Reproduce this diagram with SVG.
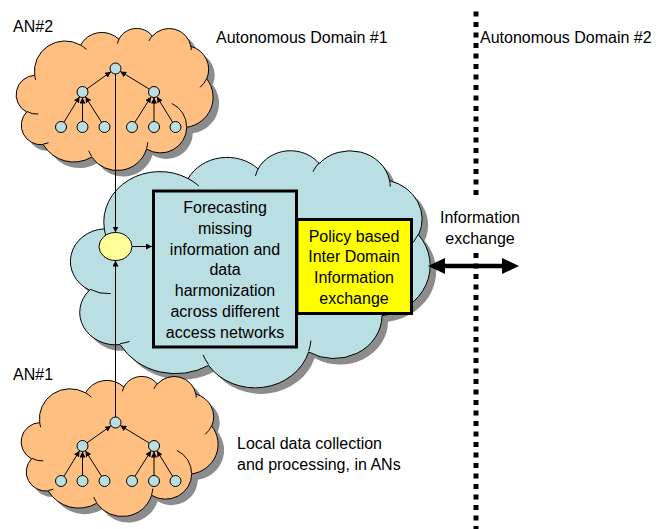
<svg xmlns="http://www.w3.org/2000/svg" xmlns:xlink="http://www.w3.org/1999/xlink" width="669" height="529" viewBox="0 0 669 529">
<style>
.t{font-family:"Liberation Sans",Arial,sans-serif;font-size:16px;fill:#000}
.c{text-anchor:middle}
.orange{fill:#FFBF80;stroke:#000;stroke-width:1}
.blue{fill:#BADFE3;stroke:#000;stroke-width:1}
.shadow{fill:#8C8C8C;stroke:none}
.inner{fill:none;stroke:#000;stroke-width:1}
.node{fill:#BADFE3;stroke:#000;stroke-width:1}
.edge{stroke:#000;stroke-width:1;fill:none;marker-end:url(#ah)}
</style>
<defs>
<marker id="ah" viewBox="0 0 6 6" refX="6" refY="3" markerWidth="6" markerHeight="6" markerUnits="userSpaceOnUse" orient="auto">
<path d="M0,0 L6,3 L0,6 Z" fill="#000"/>
</marker>
<path id="cloudO" vector-effect="non-scaling-stroke" d="M9.03,33.26 A15.63,21.27 0 0 1 32.42,12.04 A12.35,16.82 0 0 1 51.98,7.94 A10.10,13.76 0 0 1 69.06,5.74 A11.24,15.27 0 0 1 88.70,12.91 A12.35,16.84 0 0 1 96.80,35.79 A15.68,21.34 0 0 1 86.59,69.91 A13.39,18.21 0 0 1 66.10,85.22 A15.63,21.33 0 0 1 38.15,90.89 A17.87,24.41 0 0 1 13.44,82.11 A10.09,13.70 0 0 1 4.89,59.14 A10.06,13.76 0 0 1 9.03,33.26 Z"/>
<path id="cloudI" vector-effect="non-scaling-stroke" d="M10.86,60.60 A10.06,13.76 0 0 1 5.00,58.75 M16.04,80.79 A10.09,13.70 0 0 1 13.47,81.67 M38.14,90.49 A15.63,21.33 0 0 1 36.60,86.46 M66.73,80.44 A15.63,21.33 0 0 1 66.11,84.86 M79.00,53.13 A13.39,18.21 0 0 1 86.53,69.65 M96.76,35.54 A12.35,16.84 0 0 1 93.40,41.74 M88.71,12.56 A11.24,15.27 0 0 1 88.89,15.49 M67.31,9.15 A11.24,15.27 0 0 1 69.03,5.42 M51.25,10.93 A10.10,13.76 0 0 1 52.08,7.71 M32.41,12.02 A15.63,21.27 0 0 1 35.42,15.14 M9.55,36.55 A15.63,21.27 0 0 1 9.03,33.26"/>
</defs>
<rect width="669" height="529" fill="#fff"/>

<g id="domain-border">
<line x1="476" y1="11.5" x2="476" y2="529" stroke="#000" stroke-width="5" stroke-dasharray="5 5.5"/>
</g>

<g id="central-cloud">
<use xlink:href="#cloudO" href="#cloudO" class="shadow" transform="translate(78,156) scale(3.58,2.37)"/>
<use xlink:href="#cloudO" href="#cloudO" class="blue" transform="translate(72,150) scale(3.58,2.37)"/>
<use xlink:href="#cloudI" href="#cloudI" class="inner" transform="translate(72,150) scale(3.58,2.37)"/>
</g>

<g id="forecasting-box">
<rect x="153.5" y="191" width="143" height="156" fill="#BADFE3" stroke="#000" stroke-width="3"/>
<text class="t c" x="225" y="213">Forecasting</text>
<text class="t c" x="225" y="233.8">missing</text>
<text class="t c" x="225" y="254.6">information and</text>
<text class="t c" x="225" y="275.4">data</text>
<text class="t c" x="225" y="296.2">harmonization</text>
<text class="t c" x="225" y="317">across different</text>
<text class="t c" x="225" y="337.8">access networks</text>
</g>

<g id="policy-box">
<rect x="297" y="219.5" width="114.5" height="94" fill="#FFFF00" stroke="#000" stroke-width="3"/>
<text class="t c" x="354" y="241.5">Policy based</text>
<text class="t c" x="354" y="262.3">Inter Domain</text>
<text class="t c" x="354" y="283.1">Information</text>
<text class="t c" x="354" y="303.9">exchange</text>
</g>

<g id="merge-node">
<ellipse cx="115.5" cy="246.5" rx="16.5" ry="14" fill="#FFFF99" stroke="#000" stroke-width="1"/>
</g>

<g id="an2-cloud">
<use xlink:href="#cloudO" href="#cloudO" class="shadow" transform="translate(23,34) scale(1.96,1.42)"/>
<use xlink:href="#cloudO" href="#cloudO" class="orange" transform="translate(17,28) scale(1.96,1.42)"/>
<use xlink:href="#cloudI" href="#cloudI" class="inner" transform="translate(17,28) scale(1.96,1.42)"/>
</g>

<g id="an1-cloud">
<use xlink:href="#cloudO" href="#cloudO" class="shadow" transform="translate(28,382) scale(1.96,1.40)"/>
<use xlink:href="#cloudO" href="#cloudO" class="orange" transform="translate(22,376) scale(1.96,1.40)"/>
<use xlink:href="#cloudI" href="#cloudI" class="inner" transform="translate(22,376) scale(1.96,1.40)"/>
</g>

<g id="an2-tree">
<line class="edge" x1="87" y1="88.8" x2="111" y2="71.7"/>
<line class="edge" x1="149.3" y1="89.1" x2="120.2" y2="71.4"/>
<line class="edge" x1="63.9" y1="122.3" x2="79.6" y2="96.7"/>
<line class="edge" x1="82.5" y1="121.5" x2="82.5" y2="97.5"/>
<line class="edge" x1="101.6" y1="122.3" x2="85.4" y2="96.7"/>
<line class="edge" x1="134.9" y1="122.3" x2="151.1" y2="96.7"/>
<line class="edge" x1="154" y1="121.5" x2="154" y2="97.5"/>
<line class="edge" x1="172.6" y1="122.3" x2="156.9" y2="96.7"/>
<circle class="node" cx="115.5" cy="68.5" r="5.5"/>
<circle class="node" cx="82.5" cy="92" r="5.5"/>
<circle class="node" cx="154" cy="92" r="5.5"/>
<circle class="node" cx="61" cy="127" r="5.5"/>
<circle class="node" cx="82.5" cy="127" r="5.5"/>
<circle class="node" cx="104.5" cy="127" r="5.5"/>
<circle class="node" cx="132" cy="127" r="5.5"/>
<circle class="node" cx="154" cy="127" r="5.5"/>
<circle class="node" cx="175.5" cy="127" r="5.5"/>
</g>

<g id="an1-tree" transform="translate(0,354)">
<line class="edge" x1="87" y1="88.8" x2="111" y2="71.7"/>
<line class="edge" x1="149.3" y1="89.1" x2="120.2" y2="71.4"/>
<line class="edge" x1="63.9" y1="122.3" x2="79.6" y2="96.7"/>
<line class="edge" x1="82.5" y1="121.5" x2="82.5" y2="97.5"/>
<line class="edge" x1="101.6" y1="122.3" x2="85.4" y2="96.7"/>
<line class="edge" x1="134.9" y1="122.3" x2="151.1" y2="96.7"/>
<line class="edge" x1="154" y1="121.5" x2="154" y2="97.5"/>
<line class="edge" x1="172.6" y1="122.3" x2="156.9" y2="96.7"/>
<circle class="node" cx="115.5" cy="68.5" r="5.5"/>
<circle class="node" cx="82.5" cy="92" r="5.5"/>
<circle class="node" cx="154" cy="92" r="5.5"/>
<circle class="node" cx="61" cy="127" r="5.5"/>
<circle class="node" cx="82.5" cy="127" r="5.5"/>
<circle class="node" cx="104.5" cy="127" r="5.5"/>
<circle class="node" cx="132" cy="127" r="5.5"/>
<circle class="node" cx="154" cy="127" r="5.5"/>
<circle class="node" cx="175.5" cy="127" r="5.5"/>
</g>

<g id="connectors">
<line class="edge" x1="115.5" y1="74" x2="115.5" y2="232.5"/>
<line class="edge" x1="115.5" y1="417" x2="115.5" y2="260.5"/>
<line class="edge" x1="132" y1="246.5" x2="152" y2="246.5"/>
<g id="info-exchange-arrow">
<line x1="442" y1="266" x2="505" y2="266" stroke="#000" stroke-width="4.5"/>
<polygon points="428,266 445,258 445,274" fill="#000"/>
<polygon points="519,266 502,258 502,274" fill="#000"/>
</g>
</g>

<g id="labels">
<text class="t" x="13" y="32">AN#2</text>
<text class="t" x="13" y="380">AN#1</text>
<text class="t" x="216" y="43">Autonomous Domain #1</text>
<text class="t" x="480" y="43">Autonomous Domain #2</text>
<rect x="438" y="199" width="84" height="52" fill="#fff"/>
<text class="t c" x="480" y="223">Information</text>
<text class="t c" x="480" y="244">exchange</text>
<text class="t" x="237" y="449">Local data collection</text>
<text class="t" x="237" y="470">and processing, in ANs</text>
</g>
</svg>
